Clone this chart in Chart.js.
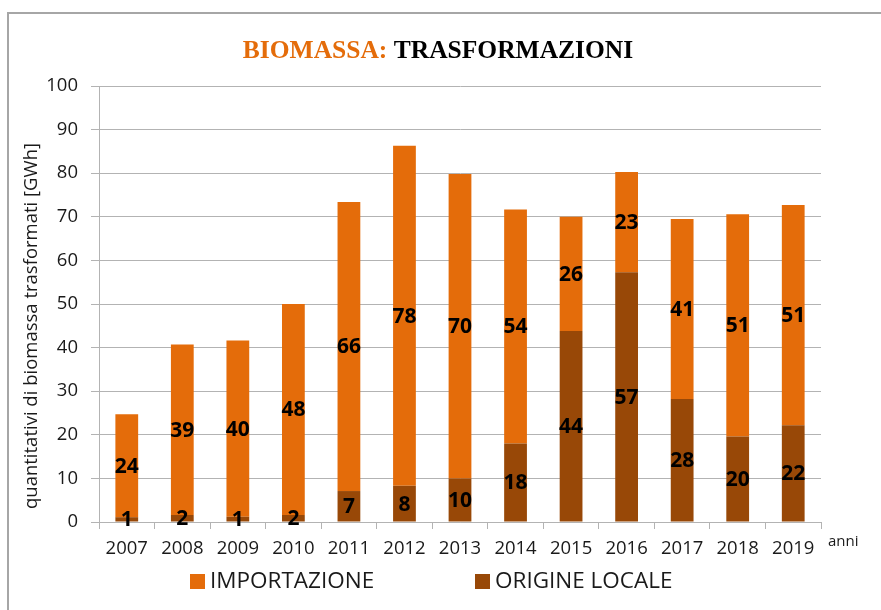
<!DOCTYPE html>
<html>
<head>
<meta charset="utf-8">
<script src="https://cdn.jsdelivr.net/npm/chart.js@4/dist/chart.umd.min.js"></script>
<style>
  html, body { margin: 0; padding: 0; background: #fff; }
  #wrap { width: 881px; height: 610px; }
</style>
</head>
<body>
<div id="wrap"><canvas id="biomassa" width="881" height="610"></canvas></div>
<script>
// data
const anni = ["2007","2008","2009","2010","2011","2012","2013","2014","2015","2016","2017","2018","2019"];
const origineLocale = [1.1, 1.6, 1.2, 1.6, 7.1, 8.3, 10.0, 18.0, 43.8, 57.3, 28.2, 19.6, 22.2];
const importazione = [23.6, 39.1, 40.4, 48.4, 66.3, 78.0, 69.8, 53.7, 26.2, 23.0, 41.3, 51.0, 50.5];
const yTicks = [0, 10, 20, 30, 40, 50, 60, 70, 80, 90, 100];

const ARANCIO = '#E46C0A';
const MARRONE = '#984807';
const FONT = "'Open Sans', 'DejaVu Sans', sans-serif";

// title in two colours, frame, axis title, "anni", legend and value labels
const extras = {
  id: 'extras',
  beforeDraw(chart) {
    const ctx = chart.ctx;
    ctx.save();
    ctx.strokeStyle = '#a6a6a6';
    ctx.lineWidth = 2;
    ctx.beginPath();
    ctx.moveTo(8, 610);
    ctx.lineTo(8, 13);
    ctx.lineTo(881, 13);
    ctx.stroke();
    ctx.restore();
  },
  afterDatasetsDraw(chart) {
    const ctx = chart.ctx;
    ctx.save();
    ctx.font = "bold 21px " + FONT;
    ctx.fillStyle = '#000';
    ctx.textAlign = 'center';
    ctx.textBaseline = 'middle';
    chart.data.datasets.forEach((ds, i) => {
      const meta = chart.getDatasetMeta(i);
      meta.data.forEach((bar, j) => {
        const p = bar.getProps(['x', 'y', 'base'], true);
        ctx.fillText(Math.round(ds.data[j]), p.x, (p.y + p.base) / 2 + 1);
      });
    });
    ctx.restore();
  },
  afterDraw(chart) {
    const ctx = chart.ctx;
    ctx.save();
    // title
    ctx.font = "bold 25.5px 'Liberation Serif', 'Times New Roman', serif";
    ctx.textBaseline = 'middle';
    ctx.textAlign = 'left';
    const a = 'BIOMASSA: ', b = 'TRASFORMAZIONI';
    const wa = ctx.measureText(a).width, wb = ctx.measureText(b).width;
    let x = 438 - (wa + wb) / 2;
    ctx.fillStyle = ARANCIO;
    ctx.fillText(a, x, 51);
    ctx.fillStyle = '#000';
    ctx.fillText(b, x + wa, 51);
    // y axis title
    ctx.save();
    ctx.translate(32, 326);
    ctx.rotate(-Math.PI / 2);
    ctx.textAlign = 'center';
    ctx.font = "18.5px " + FONT;
    ctx.fillStyle = '#1a1a1a';
    ctx.fillText('quantitativi di biomassa trasformati [GWh]', 0, 0);
    ctx.restore();
    // anni
    ctx.font = "15px " + FONT;
    ctx.fillStyle = '#1a1a1a';
    ctx.fillText('anni', 828, 542);
    // legend
    const items = [
      { text: 'IMPORTAZIONE', color: ARANCIO, x: 190 },
      { text: 'ORIGINE LOCALE', color: MARRONE, x: 475 }
    ];
    ctx.font = "22.5px " + FONT;
    items.forEach(it => {
      ctx.fillStyle = it.color;
      ctx.fillRect(it.x, 574, 15, 15);
      ctx.fillStyle = '#1a1a1a';
      ctx.fillText(it.text, it.x + 20, 582);
    });
    ctx.restore();
  }
};

new Chart(document.getElementById('biomassa'), {
  type: 'bar',
  data: {
    labels: anni,
    datasets: [
      { label: 'ORIGINE LOCALE', data: origineLocale, backgroundColor: MARRONE,
        barPercentage: 0.82, categoryPercentage: 0.5 },
      { label: 'IMPORTAZIONE', data: importazione, backgroundColor: ARANCIO,
        barPercentage: 0.82, categoryPercentage: 0.5 }
    ]
  },
  options: {
    responsive: false,
    animation: false,
    layout: { padding: { top: 86, right: 60, left: 0, bottom: 52 } },
    plugins: {
      legend: { display: false },
      title: { display: false },
      tooltip: { enabled: false }
    },
    scales: {
      x: {
        stacked: true,
        afterFit(scale) { scale.height = 36; },
        grid: { drawOnChartArea: false, offset: true, tickLength: 7, color: '#b3b3b3' },
        border: { color: '#b3b3b3' },
        ticks: { color: '#1a1a1a', font: { family: FONT, size: 18.5 }, padding: 9 }
      },
      y: {
        stacked: true,
        min: 0,
        max: 100,
        afterFit(scale) { scale.width = 99; },
        afterBuildTicks(scale) { scale.ticks = yTicks.map(v => ({ value: v })); },
        grid: { color: '#b3b3b3', tickLength: 8 },
        border: { color: '#b3b3b3' },
        ticks: { color: '#1a1a1a', font: { family: FONT, size: 18.5 }, padding: 13 }
      }
    }
  },
  plugins: [extras]
});
</script>
</body>
</html>
